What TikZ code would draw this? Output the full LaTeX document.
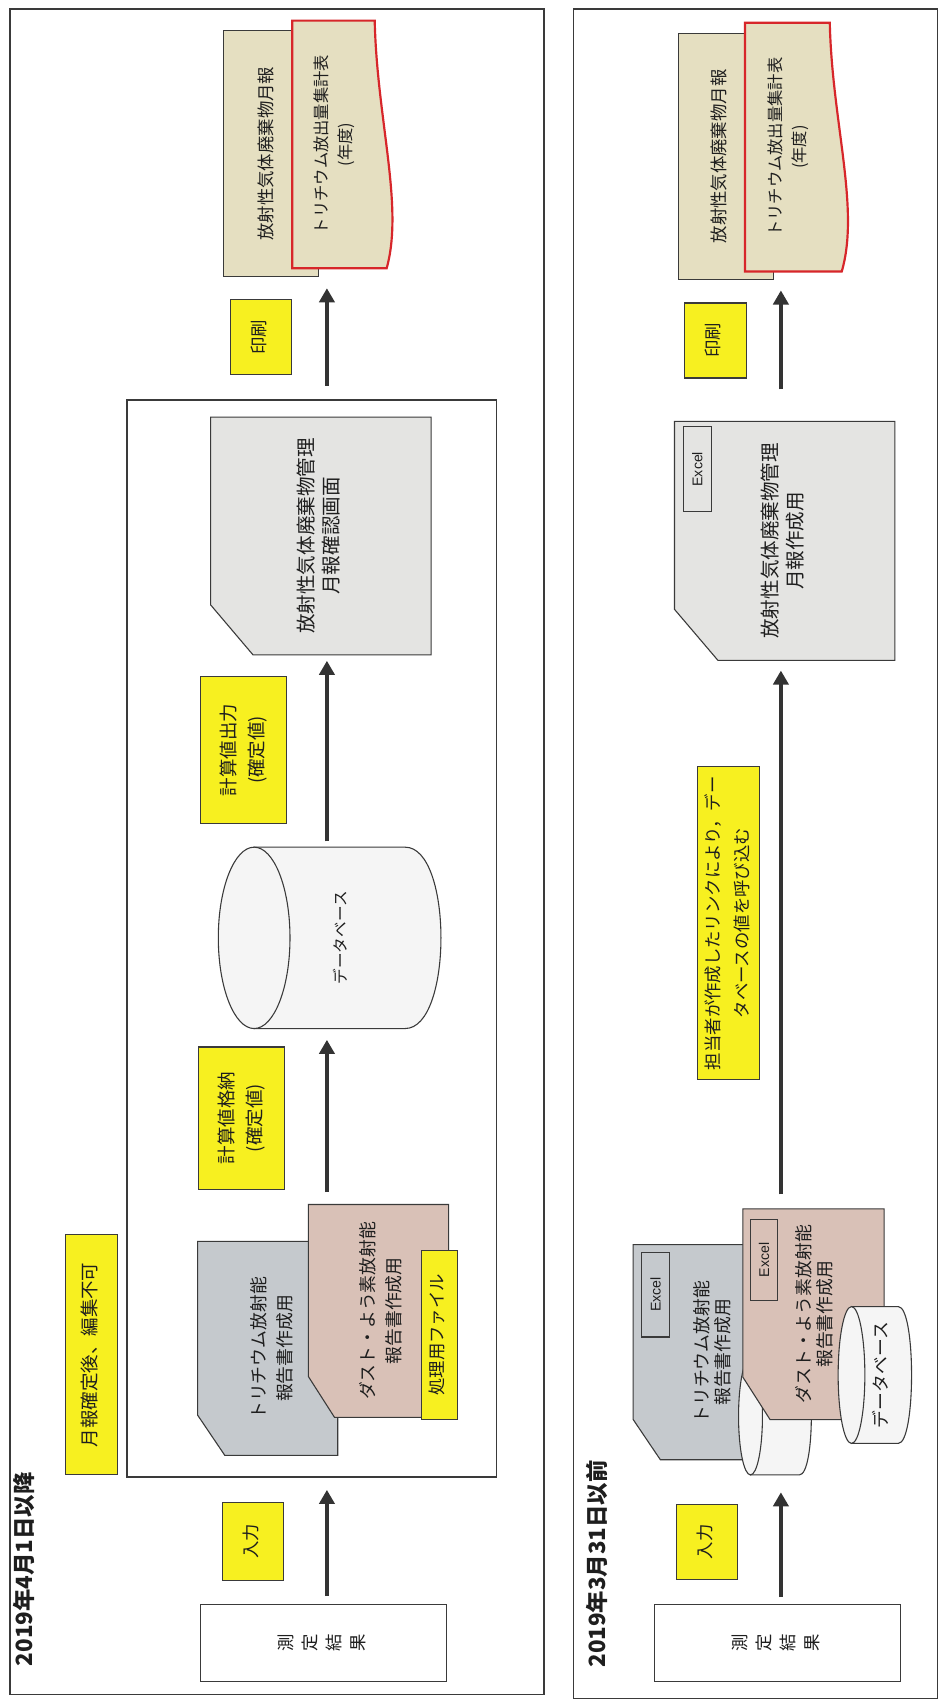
\documentclass[tikz,border=0pt]{standalone}
\usepackage{fontspec}
\setmainfont{Noto Sans CJK JP}
\newfontfamily\excelfont{Liberation Sans}
\usepackage{graphicx}
\usetikzlibrary{arrows.meta,calc}

\definecolor{ylw}{RGB}{247,240,32}
\definecolor{trigray}{RGB}{197,201,205}
\definecolor{dustpink}{RGB}{217,193,183}
\definecolor{mgmtgray}{RGB}{228,228,226}
\definecolor{montan}{RGB}{229,223,193}
\definecolor{repred}{RGB}{215,38,42}
\definecolor{edge}{RGB}{58,58,58}
\definecolor{ink}{RGB}{30,30,30}
\definecolor{dbfill}{RGB}{245,245,245}

% text turned a quarter left, read from bottom to top
\newcommand{\vtext}[1]{\rotatebox{90}{\begin{tabular}{@{}c@{}}#1\end{tabular}}}

\begin{document}
\begin{tikzpicture}[
    x=0.5pt, y=-0.5pt,
    wh/.style 2 args={minimum width=#1*0.5pt, minimum height=#2*0.5pt},
    panel/.style={draw=edge, line width=0.75pt},
    outline/.style={draw=edge, line width=0.5pt},
    box/.style={draw=edge, line width=0.5pt, inner sep=0pt, text=ink},
    note/.style={box, fill=ylw, font=\fontsize{8.5}{13}\selectfont},
    txt/.style={inner sep=0pt, text=ink},
    xl/.style={box, font=\excelfont\fontsize{6.5}{8}\selectfont},
    arr/.style={-{Triangle[length=6.5pt,width=7pt]}, line width=1.8pt, draw=black!80}
]
\fill[white] (0,0) rectangle (869,1568);
\useasboundingbox (0,0) rectangle (869,1568);

% ---- from 2019-04-01
\draw[panel] (9,8) rectangle (501,1560);
\node[txt, font=\fontsize{10.3}{12}\selectfont\bfseries] (titleL) at (22.5,1445) {\rotatebox{90}{2019年4月1日以降}};
\node[note, wh={48}{221}] (fixed1) at (84,1247.5) {\vtext{月報確定後、編集不可}};
\node[box, line width=0.75pt, wh={340}{992}] (inner1) at (287,864) {};

\node[box, fill=white, wh={226}{71}, font=\fontsize{8}{11}\selectfont] (meas1) at (298,1512.5) {\vtext{測\\定\\結\\果}};
\node[note, wh={56}{72}, font=\fontsize{8}{10}\selectfont] (in1) at (233,1419) {\vtext{入力}};

\filldraw[outline, fill=trigray] (182,1143) -- (311,1143) -- (311,1340) -- (207,1340) -- (182,1303) -- cycle;
\node[txt, wh={129}{197}, font=\fontsize{8.2}{12}\selectfont] (tri1) at (246.5,1241.5) {\hspace*{5.5pt}\vtext{トリチウム放射能\\報告書作成用}};
\filldraw[outline, fill=dustpink] (284,1109) -- (413,1109) -- (413,1305) -- (308,1305) -- (284,1267.5) -- cycle;
\node[txt, wh={129}{196}, font=\fontsize{8.2}{12}\selectfont] (dust1) at (348.5,1207) {\hspace*{3.5pt}\vtext{ダスト・よう素放射能\\報告書作成用}};
\node[note, wh={33}{156}, font=\fontsize{8}{10}\selectfont] (proc1) at (404.5,1229) {\vtext{処理用ファイル}};

\node[note, wh={79}{131}] (calc1) at (222.5,1029.5) {\vtext{計算値格納\\(確定値)}};
\filldraw[outline, fill=dbfill] (234,780) -- (373,780) .. controls (417,780) and (417,947) .. (373,947) -- (234,947) -- cycle;
\filldraw[outline, fill=dbfill] (234,863.5) ellipse [x radius=16.5pt, y radius=41.75pt];
\node[txt, wh={205}{167}, font=\fontsize{7.2}{9}\selectfont] (db1) at (303.5,863.5) {\hspace*{11.5pt}\vtext{データベース}};

\node[note, wh={79}{135}] (calc2) at (224.5,690.5) {\vtext{計算値出力\\(確定値)}};
\filldraw[outline, fill=mgmtgray] (194,384) -- (397,384) -- (397,603) -- (233,603) -- (194,557) -- cycle;
\node[txt, wh={203}{219}, font=\fontsize{9}{11.5}\selectfont] (mgmt1) at (295.5,493.5) {\vtext{放射性気体廃棄物管理\\月報確認画面}};

\node[note, wh={56}{69}, font=\fontsize{8}{10}\selectfont] (prt1) at (240,310.5) {\vtext{印刷}};
\node[box, fill=montan, wh={87}{227}, font=\fontsize{8}{10}\selectfont] (mon1) at (249.5,141.5) {\vtext{放射性気体廃棄物月報}\hspace*{2.5pt}};
\filldraw[draw=repred, line width=1pt, fill=montan] (269,19) -- (345,19) .. controls (347,110) and (372,190) .. (356,247) -- (269,247) -- cycle;
\node[txt, wh={87}{228}, font=\fontsize{7.5}{11}\selectfont] (rep1) at (312.5,133) {\vtext{トリチウム放出量集計表\\(年度)}\hspace*{4.5pt}};

\coordinate (axL) at (301,0);
\draw[arr, shorten <=3.5pt, shorten >=5.5pt] (meas1.north -| axL) -- (inner1.south -| axL);
\draw[arr, shorten <=5.5pt, shorten >=5pt] (dust1.north -| axL) -- (db1.south -| axL);
\draw[arr, shorten <=2.5pt, shorten >=2.5pt] (db1.north -| axL) -- (mgmt1.south -| axL);
\draw[arr, shorten <=6pt, shorten >=9pt] (inner1.north -| axL) -- (rep1.south -| axL);

% ---- up to 2019-03-31
\draw[panel] (528,8) rectangle (863,1564);
\node[txt, font=\fontsize{10.3}{12}\selectfont\bfseries] (titleR) at (549.5,1440) {\rotatebox{90}{2019年3月31日以前}};

\node[box, fill=white, wh={226}{71}, font=\fontsize{8}{11}\selectfont] (meas2) at (716,1512.5) {\vtext{測\\定\\結\\果}};
\node[note, wh={56}{69}, font=\fontsize{8}{10}\selectfont] (in2) at (651,1419.5) {\vtext{入力}};

\filldraw[outline, fill=trigray] (583,1146) -- (711,1146) -- (711,1344) -- (608,1344) -- (583,1307) -- cycle;
\node[txt, wh={128}{198}, font=\fontsize{8.2}{9.5}\selectfont] (tri2) at (647,1245) {\hspace*{11pt}\vtext{トリチウム放射能\\報告書作成用}};
\node[xl, wh={25}{78}] (xl1) at (603.5,1192) {\rotatebox{90}{Excel}};

\filldraw[outline, fill=dbfill] (691,1250) -- (736,1250) .. controls (750.7,1250) and (750.7,1358) .. (736,1358) -- (691,1358) -- cycle;
\filldraw[outline, fill=dbfill] (691,1304) ellipse [x radius=5.5pt, y radius=27pt];
\coordinate (dbfoot) at (713.5,1358);

\filldraw[outline, fill=dustpink] (684,1113) -- (814,1113) -- (814,1307) -- (709,1307) -- (684,1268) -- cycle;
\node[txt, wh={130}{194}, font=\fontsize{8.2}{9.5}\selectfont] (dust2) at (749,1210) {\hspace*{3pt}\vtext{ダスト・よう素放射能\\報告書作成用}};
\node[xl, wh={25}{74}] (xl2) at (703.5,1160) {\rotatebox{90}{Excel}};

\filldraw[outline, fill=dbfill] (784,1203) -- (827,1203) .. controls (843.4,1203) and (843.4,1329) .. (827,1329) -- (784,1329) -- cycle;
\filldraw[outline, fill=dbfill] (784,1266) ellipse [x radius=6.15pt, y radius=31.5pt];
\node[txt, wh={68}{126}, font=\fontsize{8.2}{10}\selectfont] (db2) at (805.5,1266) {\hspace*{7.5pt}\vtext{データベース}};

\node[note, wh={57}{288}, font=\fontsize{8}{13.5}\selectfont] (link2) at (670.5,850) {\vtext{担当者が作成したリンクにより，デー\\タベースの値を呼び込む}};
\filldraw[outline, fill=mgmtgray] (621,388) -- (824,388) -- (824,608) -- (661,608) -- (621,561) -- cycle;
\node[txt, wh={203}{220}, font=\fontsize{9}{11.5}\selectfont] (mgmt2) at (722.5,498) {\vtext{放射性気体廃棄物管理\\月報作成用}};
\node[xl, wh={26}{78}] (xl3) at (642,432) {\rotatebox{90}{Excel}};

\node[note, wh={57}{69}, font=\fontsize{8}{10}\selectfont] (prt2) at (658.5,313.5) {\vtext{印刷}};
\node[box, fill=montan, wh={87}{226}, font=\fontsize{8}{10}\selectfont] (mon2) at (668.5,144) {\vtext{放射性気体廃棄物月報}\hspace*{4.5pt}};
\filldraw[draw=repred, line width=1pt, fill=montan] (686,21) -- (764,21) .. controls (766,112) and (792,192) .. (775,250) -- (686,250) -- cycle;
\node[txt, wh={90}{229}, font=\fontsize{7.5}{11}\selectfont] (rep2) at (731,135.5) {\vtext{トリチウム放出量集計表\\(年度)}\hspace*{5pt}};

\coordinate (axR) at (719,0);
\draw[arr, shorten <=3pt, shorten >=8pt] (meas2.north -| axR) -- (dbfoot -| axR);
\draw[arr, shorten <=6.5pt, shorten >=4.5pt] (dust2.north -| axR) -- (mgmt2.south -| axR);
\draw[arr, shorten <=14.5pt, shorten >=8.5pt] (mgmt2.north -| axR) -- (rep2.south -| axR);
\end{tikzpicture}
\end{document}
